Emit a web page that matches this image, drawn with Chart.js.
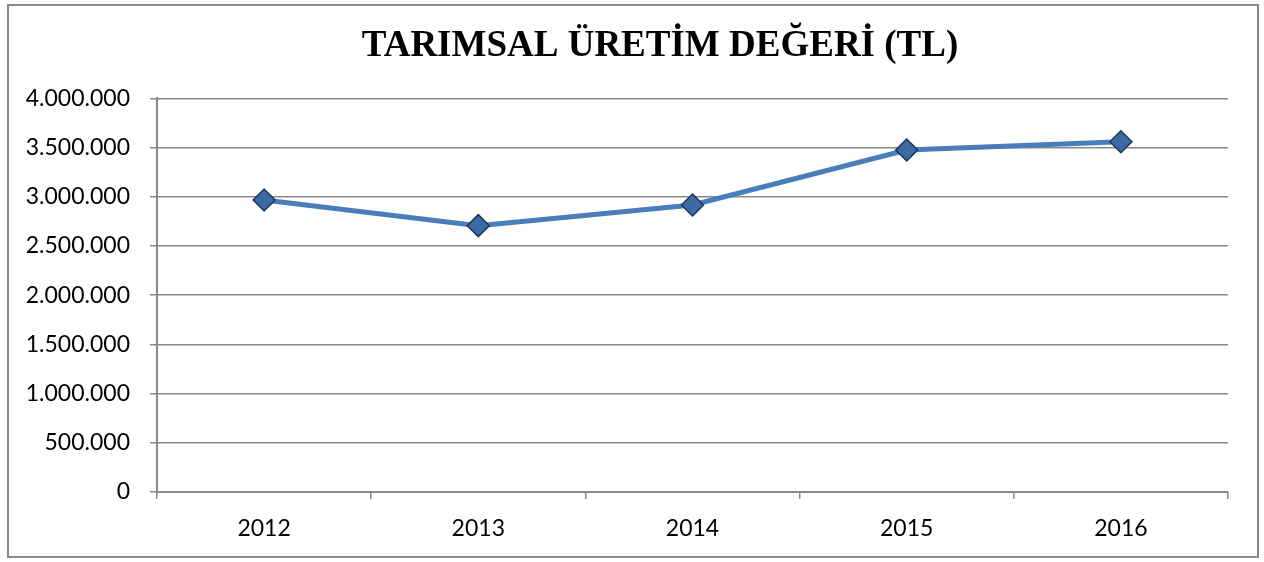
<!DOCTYPE html>
<html>
<head>
<meta charset="utf-8">
<script src="https://cdn.jsdelivr.net/npm/chart.js@4/dist/chart.umd.min.js"></script>
<style>
  html, body { margin: 0; padding: 0; background: #fff; }
  #wrap { width: 1264px; height: 562px; }
</style>
</head>
<body>
<div id="wrap"><canvas id="chart1" width="1264" height="562"></canvas></div>
<script>
const years = ['2012', '2013', '2014', '2015', '2016'];
const productionValue = [2968000, 2707000, 2917000, 3475000, 3559000];
const chartTitle = 'TARIMSAL ÜRETİM DEĞERİ (TL)';

const gridGrey = '#898989';

function dotted(v) {
    return String(v).replace(/\B(?=(\d{3})+(?!\d))/g, '.');
}

// grey frame round the whole chart, and title centred a bit right like the original
const frame = {
    id: 'frame',
    afterLayout(chart) {
        if (chart.titleBlock) chart.titleBlock.left = 92;
    },
    afterDraw(chart) {
        const ctx = chart.ctx;
        ctx.save();
        ctx.strokeStyle = gridGrey;
        ctx.lineWidth = 2;
        ctx.strokeRect(8, 5, 1250, 552);
        ctx.restore();
    }
};

const data = {
    labels: years,
    datasets: [{
        label: chartTitle,
        data: productionValue,
        borderColor: '#4a7ebb',
        borderWidth: 5,
        tension: 0,
        pointStyle: 'rectRot',
        pointRadius: 11,
        pointHoverRadius: 11,
        pointBackgroundColor: '#3c6aa5',
        pointBorderColor: '#1d3657',
        pointBorderWidth: 1.5
    }]
};

const config = {
    type: 'line',
    data: data,
    options: {
        responsive: false,
        animation: false,
        layout: { padding: { left: 0, right: 36, top: 0, bottom: 0 } },
        plugins: {
            legend: { display: false },
            tooltip: { enabled: false },
            title: {
                display: true,
                text: chartTitle,
                color: '#000',
                font: { family: '"Liberation Serif", "Times New Roman", serif', size: 37, weight: 'bold' },
                padding: { top: 24, bottom: 30 }
            }
        },
        scales: {
            x: {
                offset: true,
                grid: {
                    offset: true,
                    drawOnChartArea: false,
                    color: gridGrey,
                    lineWidth: 1.5,
                    tickLength: 7
                },
                border: { color: gridGrey, width: 2 },
                ticks: {
                    color: '#000',
                    padding: 16,
                    font: { family: 'Lato, "Open Sans", sans-serif', size: 23 }
                },
                afterFit(scale) { scale.height = 70; }
            },
            y: {
                min: 0,
                max: 4000000,
                grid: {
                    color: gridGrey,
                    lineWidth: 1.5,
                    tickLength: 7
                },
                border: { color: gridGrey, width: 2 },
                ticks: {
                    stepSize: 500000,
                    color: '#000',
                    padding: 20,
                    font: { family: 'Lato, "Open Sans", sans-serif', size: 23 },
                    callback: v => dotted(v)
                },
                afterFit(scale) { scale.width = 157; }
            }
        }
    },
    plugins: [frame]
};

const myChart = new Chart(document.getElementById('chart1'), config);
</script>
</body>
</html>
